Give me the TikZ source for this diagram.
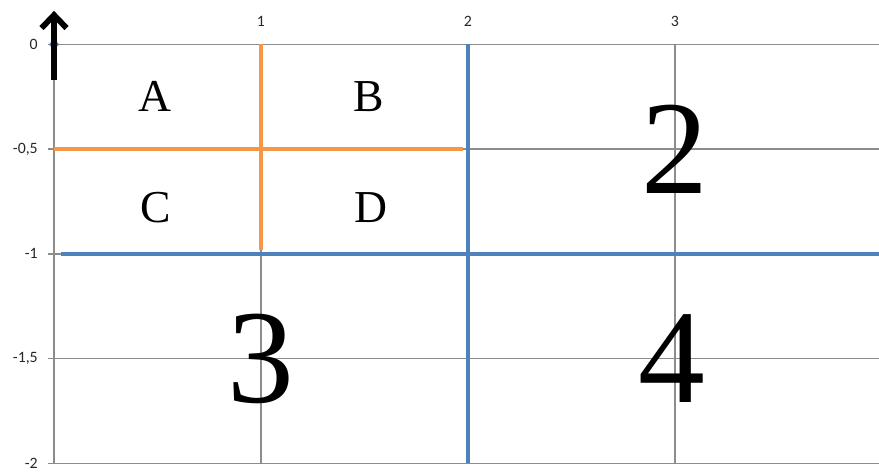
\documentclass[tikz,border=0pt]{standalone}
\usepackage{fontspec}
\setmainfont{Liberation Serif}
\newfontfamily\ticklabelfont{Carlito}
\usetikzlibrary{arrows.meta}
\definecolor{gridgray}{RGB}{140,140,140}
\definecolor{xlorange}{RGB}{247,150,70}
\definecolor{xlblue}{RGB}{79,129,189}
\begin{document}
\begin{tikzpicture}[x=4.14cm,y=4.19cm,
        gridline/.style={gridgray,line width=0.8pt},
        splitA/.style={xlorange,line width=2.4pt},
        splitB/.style={xlblue,line width=2.4pt},
        ticklabel/.style={font=\ticklabelfont\fontsize{9}{9}\selectfont,text=black!85,inner sep=0pt},
        cell/.style={font=\fontsize{26}{26}\selectfont},
        block/.style={font=\fontsize{76}{76}\selectfont}]
        \useasboundingbox (-0.261,0.212) rectangle (3.986,-2.045);
        % grid
        \foreach \y/\t in {0/0,-0.5/{-0,5},-1/-1,-1.5/{-1,5},-2/-2}{
            \draw[gridline] (-0.03,\y)--(3.986,\y);
            \node[ticklabel,anchor=east] at (-0.077,\y) {\t};
        }
        \foreach \x in {1,2,3}{
            \draw[gridline] (\x,0)--(\x,-2);
            \node[ticklabel] at (\x,0.11) {\x};
        }
        \draw[gridline] (0,0.01)--(0,-2); %y軸
        \fill[xlblue] (0.025,0)--(0,0.025)--(-0.025,0)--(0,-0.025)--cycle; %原点
        % quarters
        \draw[splitA] (1,0)--(1,-0.98);
        \draw[splitA] (0,-0.5)--(1.976,-0.5);
        \draw[splitB] (2,0)--(2,-2);
        \draw[splitB] (0.035,-1)--(3.986,-1);
        % arrow
        \draw[-{Straight Barb[length=0.26cm,width=0.5cm]},line width=3.3pt,black] (0,-0.17)--(0,0.16);
        % labels
        \node[cell] (A) at (0.49,-0.25) {A};
        \node[cell] (B) at (1.52,-0.25) {B};
        \node[cell] (C) at (0.49,-0.78) {C};
        \node[cell] (D) at (1.53,-0.78) {D};
        \node[block] (Q2) at (3,-0.5) {2};
        \node[block] (Q3) at (1,-1.5) {3};
        \node[block] (Q4) at (2.985,-1.5) {4};
    \end{tikzpicture}
\end{document}
